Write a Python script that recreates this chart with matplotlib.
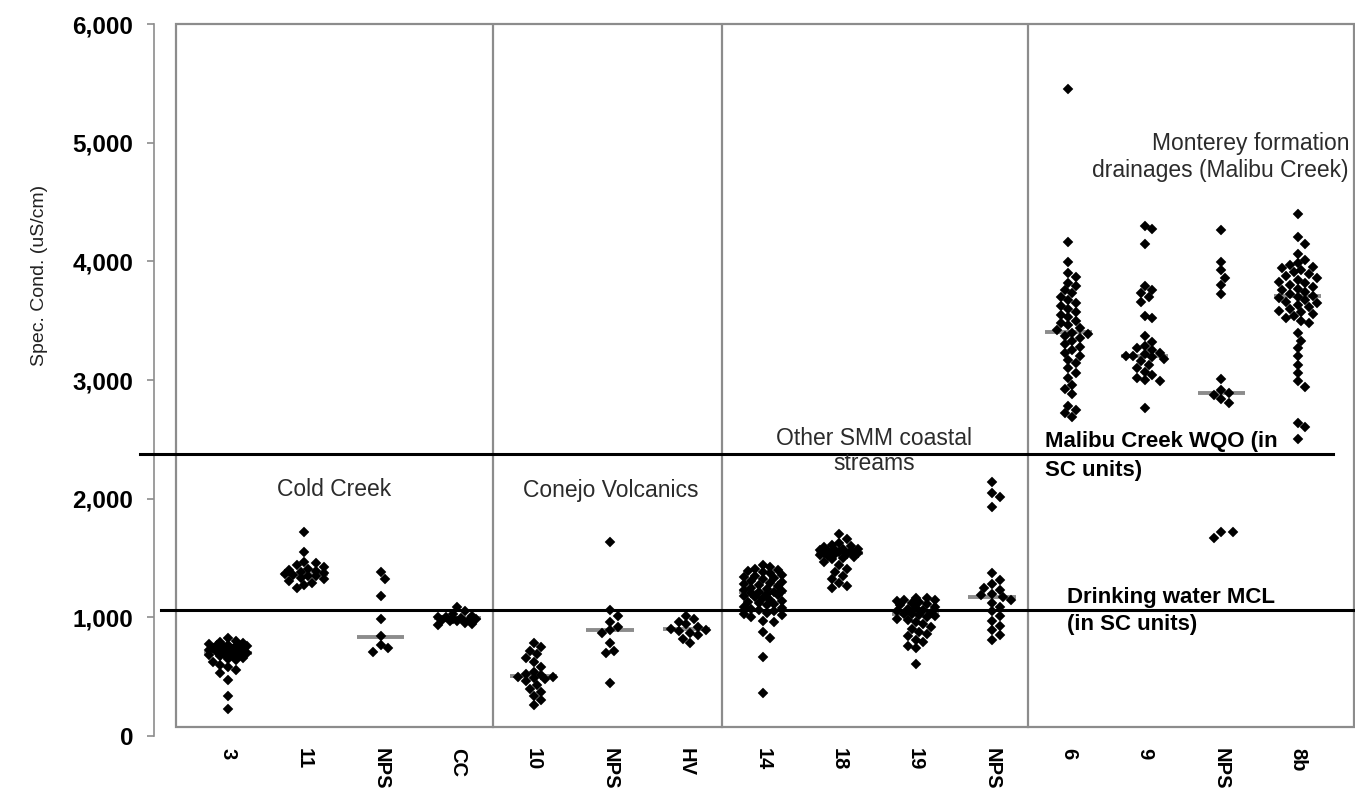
import matplotlib
matplotlib.use("Agg")
import matplotlib.pyplot as plt
import numpy as np
from matplotlib.patches import Rectangle
from matplotlib.ticker import FuncFormatter

plt.rcParams["font.family"] = ["Liberation Sans", "DejaVu Sans"]

# sites along the x axis
site_labels = ["3", "11", "NPS", "CC", "10", "NPS", "HV", "14", "18", "19", "NPS", "6", "9", "NPS", "8b"]

# specific conductance readings (uS/cm) per site
cond_3 = [826, 800, 790, 780, 775, 770, 765, 760, 755, 750, 745, 740, 735, 730, 725, 720, 715, 710,
          705, 700, 695, 690, 685, 680, 670, 660, 650, 640, 620, 600, 580, 556, 531, 472, 337, 228]
cond_11 = [1716, 1548, 1470, 1455, 1440, 1425, 1410, 1400, 1390, 1380, 1372, 1365, 1360, 1352, 1345,
           1335, 1320, 1305, 1290, 1270, 1250]
cond_nps_cold = [1385, 1325, 1180, 983, 843, 767, 740, 711]
cond_cc = [1090, 1050, 1030, 1015, 1005, 1000, 995, 990, 985, 980, 975, 970, 965, 955, 945, 935]
cond_10 = [780, 750, 720, 690, 660, 620, 580, 540, 520, 510, 500, 495, 490, 480, 460, 430, 400, 370,
           340, 300, 260]
cond_nps_conejo = [1632, 1060, 1010, 960, 920, 890, 870, 780, 720, 700, 449]
cond_hv = [1010, 985, 960, 940, 920, 905, 895, 885, 870, 850, 820, 780]
cond_14 = [1441, 1420, 1410, 1400, 1390, 1380, 1370, 1360, 1350, 1340, 1330, 1320, 1310, 1300, 1290,
           1280, 1270, 1260, 1250, 1240, 1230, 1220, 1215, 1210, 1205, 1200, 1190, 1180, 1170, 1160,
           1150, 1140, 1130, 1120, 1110, 1100, 1090, 1080, 1070, 1060, 1050, 1040, 1030, 1020, 1005,
           965, 960, 880, 823, 663, 360]
cond_18 = [1702, 1660, 1630, 1610, 1600, 1590, 1580, 1575, 1570, 1565, 1560, 1555, 1550, 1548, 1545,
           1540, 1535, 1530, 1525, 1520, 1510, 1500, 1490, 1470, 1440, 1410, 1380, 1350, 1320, 1290,
           1265, 1244]
cond_19 = [1165, 1160, 1150, 1145, 1140, 1130, 1120, 1110, 1100, 1090, 1080, 1070, 1060, 1050, 1040,
           1030, 1025, 1020, 1010, 1000, 990, 975, 960, 940, 920, 900, 880, 860, 840, 810, 790, 760,
           740, 604]
cond_nps_coastal = [2143, 2045, 2010, 1932, 1371, 1315, 1280, 1250, 1230, 1200, 1185, 1170, 1150, 1120,
                    1090, 1050, 1010, 970, 930, 890, 850, 809]
cond_6 = [5450, 4166, 3997, 3900, 3870, 3820, 3790, 3760, 3730, 3700, 3670, 3650, 3620, 3600, 3570,
          3550, 3530, 3500, 3480, 3460, 3440, 3420, 3400, 3390, 3370, 3350, 3330, 3300, 3280, 3250,
          3230, 3200, 3170, 3140, 3100, 3060, 3020, 2960, 2920, 2880, 2780, 2750, 2720, 2690]
cond_9 = [4300, 4270, 4150, 3790, 3760, 3730, 3700, 3660, 3540, 3520, 3370, 3320, 3290, 3270, 3250,
          3230, 3215, 3205, 3200, 3190, 3180, 3160, 3130, 3100, 3070, 3040, 3020, 3000, 2990, 2764]
cond_nps_monterey = [4264, 3997, 3927, 3860, 3800, 3725, 3006, 2916, 2890, 2870, 2840, 2806, 1720, 1670, 1720]
cond_8b = [4395, 4207, 4150, 4060, 4011, 3990, 3970, 3955, 3940, 3925, 3910, 3895, 3880, 3860, 3845,
           3830, 3815, 3800, 3785, 3770, 3755, 3740, 3725, 3711, 3700, 3690, 3675, 3660, 3645, 3630,
           3615, 3600, 3585, 3570, 3555, 3540, 3520, 3500, 3480, 3396, 3330, 3270, 3200, 3130, 3060,
           2990, 2943, 2634, 2606, 2500]

# gray centre bar per site
site_centres = [700, 1368, 838, 992, 505, 893, 899, 1213, 1545, 1025, 1174, 3402, 3202, 2888, 3711]

# reference levels
wqo_level = 2375
mcl_level = 1065

group_names = ["Cold Creek", "Conejo Volcanics", "Other SMM coastal\nstreams",
               "Monterey formation\ndrainages (Malibu Creek)"]

all_sites = [cond_3, cond_11, cond_nps_cold, cond_cc, cond_10, cond_nps_conejo, cond_hv, cond_14,
             cond_18, cond_19, cond_nps_coastal, cond_6, cond_9, cond_nps_monterey, cond_8b]

W, H = 1355, 788
PX_X = 76.4          # pixels per site
PX_Y = 712 / 6000    # pixels per uS/cm


def swarm(values, min_dist=8.0, max_half=0.27, step=0.05):
    """Spread points sideways so diamonds don't pile up completely."""
    values = np.asarray(values, dtype=float)
    offsets = np.zeros(len(values))
    placed = []
    cands = [0.0]
    k = 1
    while k * step <= max_half + 1e-9:
        cands += [k * step, -k * step]
        k += 1
    for idx in np.argsort(-values):
        y = values[idx] * PX_Y
        best, best_d = 0.0, -1.0
        for c in cands:
            if placed:
                pts = np.array(placed)
                d = np.min(np.hypot(c * PX_X - pts[:, 0], y - pts[:, 1]))
            else:
                d = np.inf
            if d >= min_dist:
                best = c
                break
            if d > best_d:
                best, best_d = c, d
        offsets[idx] = best
        placed.append((best * PX_X, y))
    return offsets


def fx(px):
    return px / W


def fy(py):
    return 1 - py / H


fig = plt.figure(figsize=(W / 100, H / 100), dpi=100)
ax = fig.add_axes([fx(154), fy(736), (W - 154) / W, (736 - 24) / H])
x_left = -(228 - 154) / PX_X
x_right = x_left + (W - 154) / PX_X
ax.set_xlim(x_left, x_right)
ax.set_ylim(0, 6000)

gray = "#8c8c8c"

# plot-area frame and group separators
ax.add_patch(Rectangle((-(228 - 176) / PX_X, 76), (1354 - 176) / PX_X, 6000 - 76,
                       fill=False, edgecolor=gray, linewidth=1.6, zorder=1, clip_on=False))
for sep in [3.5, 6.5, 10.5]:
    ax.plot([sep - 0.03, sep - 0.03], [76, 6000], color=gray, linewidth=1.6, zorder=1)

# reference lines
ax.plot([-(228 - 140) / PX_X, (1333 - 228) / PX_X], [wqo_level, wqo_level],
        color="black", linewidth=2.2, zorder=4, clip_on=False)
ax.plot([-(228 - 161) / PX_X, x_right], [mcl_level, mcl_level],
        color="black", linewidth=2.2, zorder=4, clip_on=False)

for i, vals in enumerate(all_sites):
    ax.plot([i - 0.31, i + 0.31], [site_centres[i], site_centres[i]], color=gray,
            linewidth=2.8, zorder=2, solid_capstyle="butt")
    offs = swarm(vals)
    ax.plot(i + offs, vals, linestyle="none", marker="D", markersize=5.5,
            color="black", markeredgewidth=0.3, zorder=3)

for side in ["top", "right", "bottom"]:
    ax.spines[side].set_visible(False)
ax.spines["left"].set_color(gray)
ax.spines["left"].set_linewidth(1.2)

ax.set_yticks(np.arange(0, 6001, 1000))
ax.yaxis.set_major_formatter(FuncFormatter(lambda v, _: f"{int(v):,}"))
ax.tick_params(axis="y", length=5, color=gray, width=1.2, pad=10, labelsize=17.5)
for lab in ax.get_yticklabels():
    lab.set_fontweight("bold")

ax.set_xticks(range(len(site_labels)))
ax.set_xticklabels(site_labels, rotation=270, fontweight="bold", fontsize=14.5)
ax.tick_params(axis="x", length=0, pad=9)

fig.text(fx(40), fy(275), "Spec. Cond. (uS/cm)", rotation=90, fontsize=14,
         ha="center", va="center", color="#222222")

label_color = "#2b2b2b"
fig.text(fx(334), fy(490), group_names[0], fontsize=16.5, ha="center", va="center", color=label_color)
fig.text(fx(611), fy(490), group_names[1], fontsize=16.5, ha="center", va="center", color=label_color)
fig.text(fx(874), fy(451), group_names[2], fontsize=16.5, ha="center", va="center",
         color=label_color, linespacing=1.1)
fig.text(fx(1349), fy(157), group_names[3], fontsize=16.5, ha="right", va="center",
         multialignment="right", color=label_color, linespacing=1.2)

fig.text(fx(1045), fy(456), "Malibu Creek WQO (in\nSC units)", fontsize=16, fontweight="bold",
         ha="left", va="center", linespacing=1.45)
fig.text(fx(1067), fy(611), "Drinking water MCL\n(in SC units)", fontsize=16, fontweight="bold",
         ha="left", va="center", linespacing=1.4)

fig.savefig("out.png", dpi=100)
